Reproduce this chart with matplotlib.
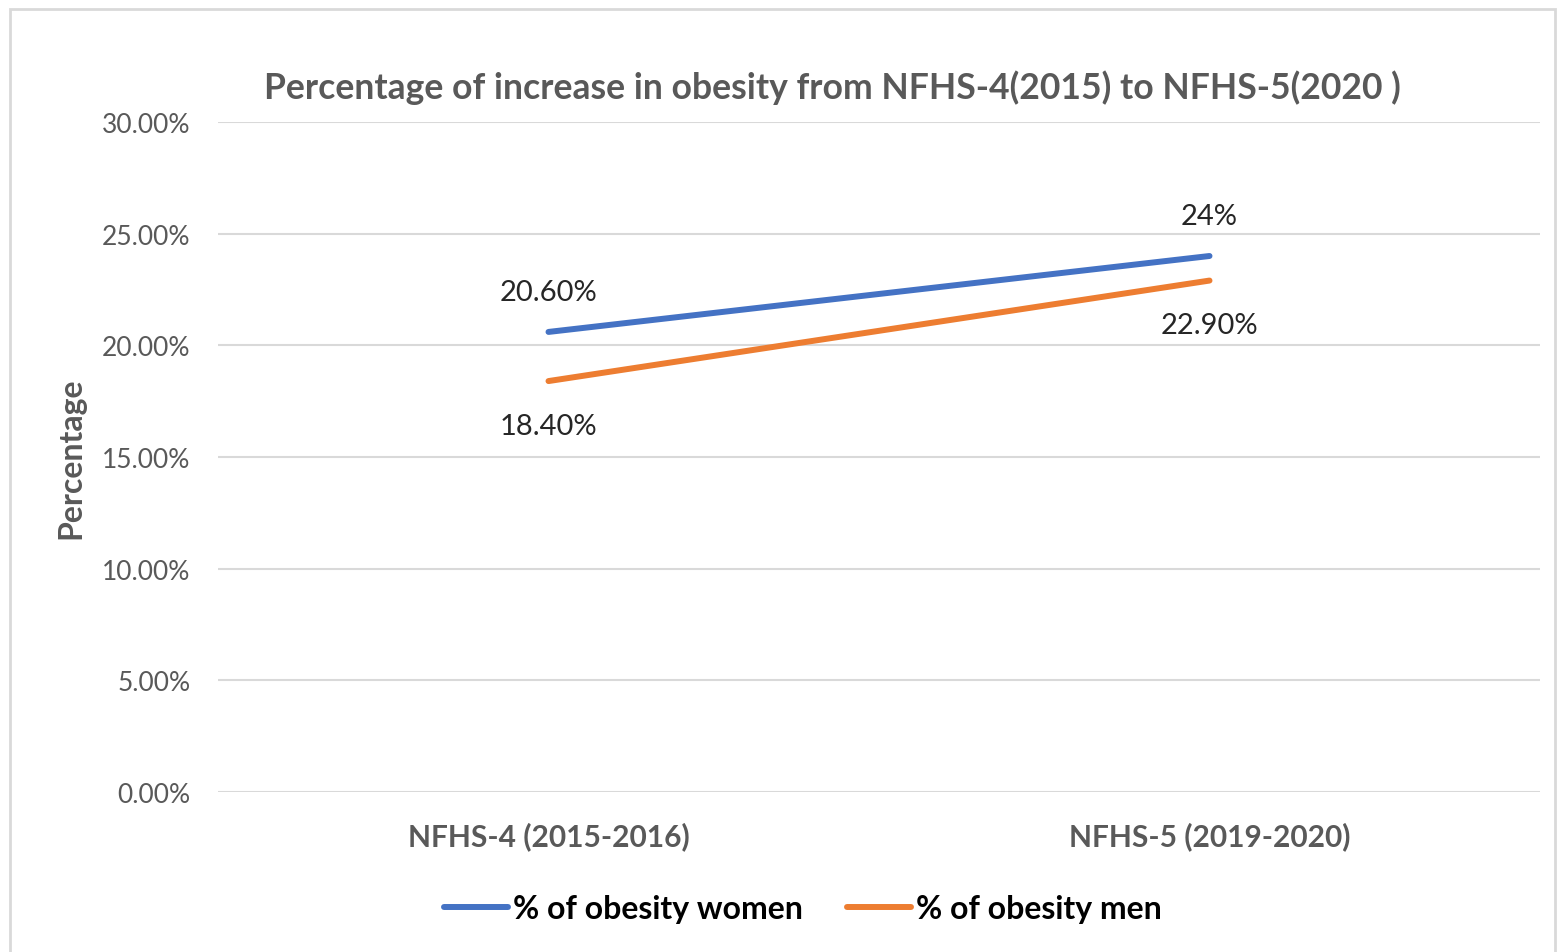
import matplotlib
matplotlib.use("Agg")
import matplotlib.pyplot as plt
from matplotlib.patches import Rectangle
from matplotlib.ticker import FuncFormatter

# ---- data ----
categories = ["NFHS-4 (2015-2016)", "NFHS-5 (2019-2020)"]
women = [20.6, 24.0]
men = [18.4, 22.9]
women_labels = ["20.60%", "24%"]
men_labels = ["18.40%", "22.90%"]
series_names = ["% of obesity women", "% of obesity men"]

BLUE = "#4472C4"
ORANGE = "#ED7D31"
GRAY = "#595959"
GRID = "#D9D9D9"
FONT = "Lato"

plt.rcParams["font.family"] = [FONT, "DejaVu Sans"]

fig = plt.figure(figsize=(15.6, 9.53), dpi=100)
fig.patches.append(Rectangle((10 / 1560, -0.01), 1545 / 1560, 1 - 10 / 953 + 0.01,
                             transform=fig.transFigure, fill=False,
                             edgecolor="#D9D9D9", lw=2))

ax = fig.add_axes([218 / 1560, 1 - 793 / 953, (1540 - 218) / 1560, (793 - 123) / 953])
xs = list(range(len(categories)))
l1, = ax.plot(xs, women, color=BLUE, lw=4.3, solid_capstyle="round", zorder=3)
l2, = ax.plot(xs, men, color=ORANGE, lw=4.3, solid_capstyle="round", zorder=3)

for x, y, s in zip(xs, women, women_labels):
    ax.annotate(s, (x, y), xytext=(0, 29), textcoords="offset points",
                ha="center", va="center", fontsize=21, color="#262626")
for x, y, s in zip(xs, men, men_labels):
    ax.annotate(s, (x, y), xytext=(0, -32), textcoords="offset points",
                ha="center", va="center", fontsize=21, color="#262626")

ax.set_xlim(-0.5, 1.5)
ax.set_ylim(0, 30)
ax.set_yticks([0, 5, 10, 15, 20, 25, 30])
ax.yaxis.set_major_formatter(FuncFormatter(lambda v, p: f"{v:.2f}%"))
ax.set_xticks(xs, categories)
ax.grid(axis="y", color=GRID, lw=1.5)
ax.set_axisbelow(True)
for sp in ax.spines.values():
    sp.set_visible(False)
ax.tick_params(axis="both", length=0, colors=GRAY, labelsize=19)
ax.tick_params(axis="y", pad=20)
ax.tick_params(axis="x", pad=21)
for lab in ax.get_xticklabels():
    lab.set_fontweight("bold")
    lab.set_fontsize(21.5)

ax.set_ylabel("Percentage", fontsize=23, fontweight="bold", color=GRAY)
ax.yaxis.set_label_coords(-0.10, 0.5)

fig.text(832 / 1560, 1 - 88 / 953, "Percentage of increase in obesity from NFHS-4(2015) to NFHS-5(2020 )",
         ha="center", va="center", fontsize=25.6, fontweight="bold", color=GRAY)

fig.legend([l1, l2], series_names, loc="center", bbox_to_anchor=(803 / 1560, 1 - 910 / 953),
           ncol=2, frameon=False, handlelength=2.0, handletextpad=0.15, columnspacing=1.4,
           prop={"family": FONT, "weight": "bold", "size": 23})

fig.savefig("out.png", dpi=100)
